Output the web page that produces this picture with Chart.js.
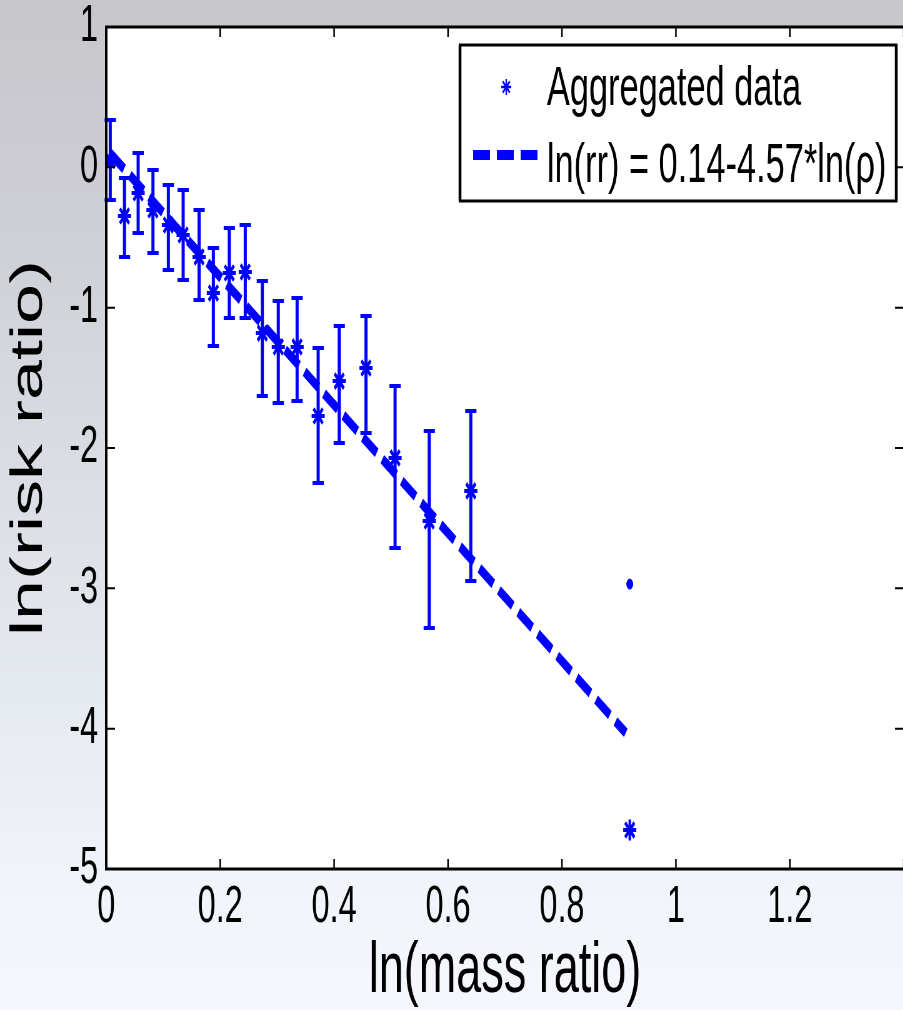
<!DOCTYPE html>
<html>
<head>
<meta charset="utf-8">
<script src="https://cdn.jsdelivr.net/npm/chart.js@4.4.1/dist/chart.umd.min.js"></script>
<style>
html, body { margin: 0; padding: 0; }
body { width: 903px; height: 1010px; overflow: hidden; }
#wrap {
  position: relative; width: 903px; height: 1010px; overflow: hidden;
  background: linear-gradient(to bottom, #c6c6cb 0%, #cdced4 20%, #d9dce3 45%, #e6eaf1 70%, #f1f4fa 88%, #f5f7fc 100%);
}
#inner { position: absolute; left: 0; top: 0; width: 1452px; height: 1010px; transform: scaleX(0.625); transform-origin: 0 0; }
</style>
</head>
<body>
<div id="wrap"><div id="inner"><canvas id="c" width="1452" height="1010"></canvas></div></div>
<script>
// ---- data ----
const massRatio = [0.007, 0.032, 0.056, 0.082, 0.109, 0.135, 0.163, 0.188, 0.216, 0.244,
                   0.274, 0.302, 0.335, 0.372, 0.409, 0.456, 0.507, 0.567, 0.640, 0.919];
const riskRatio = [0.05, -0.347, -0.183, -0.304, -0.411, -0.482, -0.639, -0.896, -0.753, -0.746,
                   -1.181, -1.280, -1.280, -1.772, -1.523, -1.430, -2.071, -2.520, -2.306, -4.722];
const errHigh   = [0.337, -0.076, 0.102, -0.019, -0.126, -0.162, -0.304, -0.575, -0.432, -0.411,
                   -0.810, -0.953, -0.931, -1.287, -1.131, -1.059, -1.558, -1.879, -1.736, null];
const errLow    = [-0.233, -0.639, -0.468, -0.610, -0.732, -0.803, -0.945, -1.273, -1.074, -1.074,
                   -1.630, -1.679, -1.665, -2.249, -1.964, -1.893, -2.713, -3.283, -2.948, null];
const dotX = [0.919];
const dotY = [-2.97];
const fitX = [0.007, 0.912];
const fitY = [0.10, -4.03];
const xTickLabels = ['0', '0.2', '0.4', '0.6', '0.8', '1', '1.2', ''];
const yTickLabels = ['-5', '-4', '-3', '-2', '-1', '0', '1'];
const seriesLabels = ['Aggregated data', 'ln(rr) = 0.14-4.57*ln(\u03C1)'];
const xTitle = 'ln(mass ratio)';
const yTitle = 'ln(risk ratio)';

const BLUE = '#0000ff';
const FONT = "'Liberation Sans', Arial, Helvetica, sans-serif";

const errorBars = {
  id: 'errorBars',
  beforeDatasetsDraw(chart) {
    const {ctx, scales: {x, y}} = chart;
    ctx.save();
    ctx.strokeStyle = BLUE;
    for (let i = 0; i < massRatio.length; i++) {
      if (errHigh[i] === null) continue;
      const px = x.getPixelForValue(massRatio[i]);
      const pt = y.getPixelForValue(errHigh[i]);
      const pb = y.getPixelForValue(errLow[i]);
      ctx.lineWidth = 5;
      ctx.beginPath(); ctx.moveTo(px, pt); ctx.lineTo(px, pb); ctx.stroke();
      ctx.lineWidth = 4;
      ctx.beginPath();
      ctx.moveTo(px - 9, pt); ctx.lineTo(px + 9, pt);
      ctx.moveTo(px - 9, pb); ctx.lineTo(px + 9, pb);
      ctx.stroke();
    }
    ctx.restore();
  }
};

const frame = {
  id: 'frame',
  beforeDraw(chart) {
    const {ctx, chartArea: a} = chart;
    ctx.save();
    ctx.fillStyle = '#ffffff';
    ctx.fillRect(a.left, a.top, a.right - a.left + 8, a.bottom - a.top);
    ctx.restore();
  },
  afterDraw(chart) {
    const {ctx, chartArea: a, scales: {x, y}} = chart;
    ctx.save();
    ctx.strokeStyle = '#000';
    // ticks
    ctx.lineWidth = 2.5;
    x.ticks.forEach(t => {
      const px = x.getPixelForValue(t.value);
      ctx.beginPath();
      ctx.moveTo(px, a.bottom); ctx.lineTo(px, a.bottom - 10);
      ctx.moveTo(px, a.top); ctx.lineTo(px, a.top + 10);
      ctx.stroke();
    });
    ctx.lineWidth = 2;
    y.ticks.forEach(t => {
      const py = y.getPixelForValue(t.value);
      ctx.beginPath();
      ctx.moveTo(a.left, py); ctx.lineTo(a.left + 14, py);
      ctx.moveTo(a.right + 4, py); ctx.lineTo(a.right - 14, py);
      ctx.stroke();
    });
    // box
    ctx.lineWidth = 3;
    ctx.beginPath();
    ctx.moveTo(a.left - 2, a.top); ctx.lineTo(a.right + 6, a.top);
    ctx.moveTo(a.left - 2, a.bottom); ctx.lineTo(a.right + 6, a.bottom);
    ctx.stroke();
    ctx.lineWidth = 4;
    ctx.beginPath();
    ctx.moveTo(a.left, a.top); ctx.lineTo(a.left, a.bottom);
    ctx.moveTo(a.right + 4, a.top); ctx.lineTo(a.right + 4, a.bottom);
    ctx.stroke();

    // legend
    const L = 736, R = 1434, T = 45, B = 201;
    ctx.fillStyle = '#fff';
    ctx.fillRect(L, T, R - L, B - T);
    ctx.lineWidth = 3;
    ctx.beginPath();
    ctx.moveTo(L - 2, T); ctx.lineTo(R + 2, T);
    ctx.moveTo(L - 2, B); ctx.lineTo(R + 2, B);
    ctx.stroke();
    ctx.lineWidth = 4.5;
    ctx.beginPath();
    ctx.moveTo(L, T); ctx.lineTo(L, B);
    ctx.moveTo(R, T); ctx.lineTo(R, B);
    ctx.stroke();

    ctx.strokeStyle = BLUE;
    ctx.fillStyle = BLUE;
    ctx.lineWidth = 2.4;
    Chart.helpers.drawPoint(ctx, {pointStyle: 'star', radius: 8, borderWidth: 2.4, rotation: 0}, 810, 87);
    ctx.lineWidth = 10;
    ctx.lineCap = 'butt';
    ctx.setLineDash([27, 11]);
    ctx.beginPath(); ctx.moveTo(757, 155); ctx.lineTo(860, 155); ctx.stroke();
    ctx.setLineDash([]);

    ctx.fillStyle = '#000';
    ctx.font = '55px ' + FONT;
    ctx.textBaseline = 'alphabetic';
    ctx.textAlign = 'left';
    ctx.fillText(chart.data.datasets[0].label, 875, 105);
    ctx.fillText(chart.data.datasets[1].label, 875, 182);
    ctx.restore();
  }
};

const hiddenGrid = { display: true, drawOnChartArea: false, drawTicks: true, tickLength: 13, color: 'rgba(0,0,0,0)' };

new Chart(document.getElementById('c'), {
  type: 'scatter',
  data: {
    datasets: [
      {
        label: seriesLabels[0],
        data: massRatio.map((v, i) => ({x: v, y: riskRatio[i]})),
        pointStyle: 'star',
        pointRadius: 10.5,
        pointBorderWidth: 4,
        borderColor: BLUE,
        backgroundColor: BLUE,
        showLine: false,
        order: 2
      },
      {
        label: seriesLabels[1],
        data: fitX.map((v, i) => ({x: v, y: fitY[i]})),
        showLine: true,
        borderColor: BLUE,
        borderWidth: 10,
        borderDash: [27, 11],
        borderCapStyle: 'butt',
        pointRadius: 0,
        fill: false,
        order: 1
      },
      {
        label: 'dot',
        data: dotX.map((v, i) => ({x: v, y: dotY[i]})),
        pointStyle: 'circle',
        pointRadius: 5,
        borderColor: BLUE,
        backgroundColor: BLUE,
        showLine: false,
        order: 3
      }
    ]
  },
  options: {
    responsive: false,
    animation: false,
    events: [],
    layout: { autoPadding: false, padding: { top: 27, left: 0, right: 6, bottom: 0 } },
    plugins: { legend: { display: false }, tooltip: { enabled: false } },
    scales: {
      x: {
        type: 'linear', min: 0, max: 1.4,
        grid: hiddenGrid,
        border: { display: false },
        ticks: {
          stepSize: 0.2, autoSkip: false, maxRotation: 0, padding: 0,
          color: '#000', font: { size: 52, family: FONT, lineHeight: 1 },
          callback: (v, i) => xTickLabels[i]
        },
        title: {
          display: true, text: xTitle, color: '#000',
          font: { size: 72, family: FONT, lineHeight: 1 },
          padding: { top: 0, bottom: 2 }
        },
        afterFit: (s) => { s.height = 141; }
      },
      y: {
        type: 'linear', min: -5, max: 1,
        grid: hiddenGrid,
        border: { display: false },
        ticks: {
          stepSize: 1, autoSkip: false, padding: 0,
          color: '#000', font: { size: 52, family: FONT, lineHeight: 1 },
          callback: (v, i) => yTickLabels[i]
        },
        title: {
          display: true, text: yTitle, color: '#000',
          font: { size: 72, family: FONT, lineHeight: 1 },
          padding: { top: 11, bottom: 0 }
        },
        afterFit: (s) => { s.width = 170; }
      }
    }
  },
  plugins: [frame, errorBars]
});
</script>
</body>
</html>
